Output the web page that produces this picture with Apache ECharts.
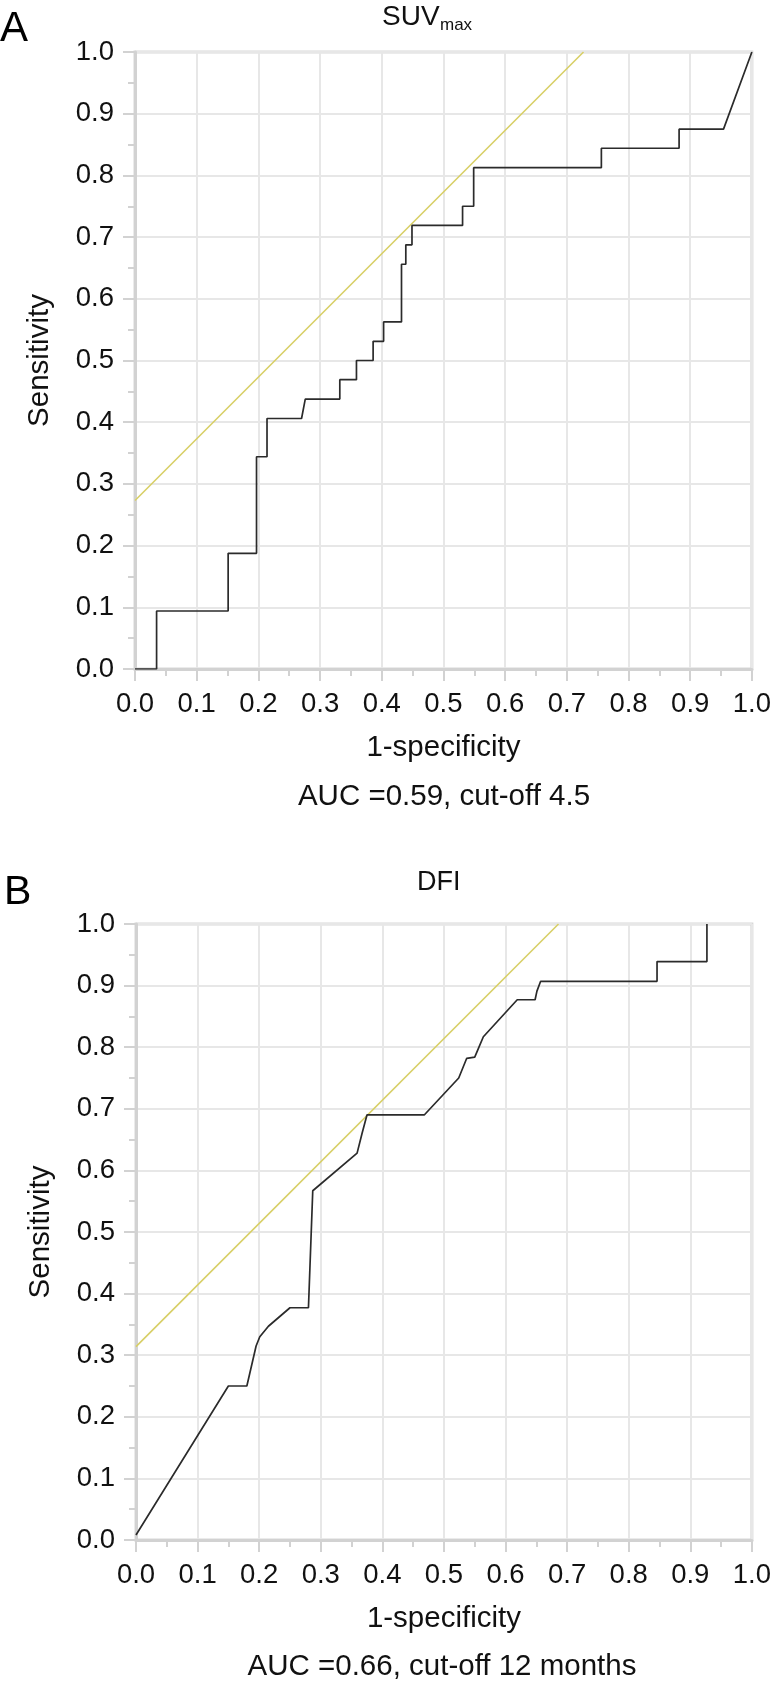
<!DOCTYPE html>
<html>
<head>
<meta charset="utf-8">
<script src="https://cdn.jsdelivr.net/npm/echarts@6/dist/echarts.min.js"></script>
<style>
html,body{margin:0;padding:0;background:#fff;}
#main{width:774px;height:1688px;}
</style>
</head>
<body>
<div id="main"></div>
<script>
// ---- data ----
const tickLabels = ['0.0','0.1','0.2','0.3','0.4','0.5','0.6','0.7','0.8','0.9','1.0'];

// Panel A: SUVmax ROC curve (1-specificity, sensitivity)
const suvFpr = [0, 0.035, 0.035, 0.151, 0.151, 0.197, 0.197, 0.214, 0.214, 0.270, 0.276, 0.332, 0.332, 0.359, 0.359, 0.386, 0.386, 0.403, 0.403, 0.432, 0.432, 0.439, 0.439, 0.449, 0.449, 0.531, 0.531, 0.549, 0.549, 0.756, 0.756, 0.882, 0.882, 0.954, 1.0];
const suvTpr = [0, 0, 0.094, 0.094, 0.1875, 0.1875, 0.344, 0.344, 0.406, 0.406, 0.4375, 0.4375, 0.469, 0.469, 0.5, 0.5, 0.531, 0.531, 0.5625, 0.5625, 0.656, 0.656, 0.6875, 0.6875, 0.719, 0.719, 0.75, 0.75, 0.8125, 0.8125, 0.844, 0.844, 0.875, 0.875, 1.0];
const suvRefX = [0, 0.727];
const suvRefY = [0.273, 1.0];

// Panel B: DFI ROC curve
const dfiFpr = [0, 0.150, 0.180, 0.195, 0.201, 0.215, 0.250, 0.280, 0.287, 0.359, 0.367, 0.375, 0.468, 0.524, 0.537, 0.550, 0.556, 0.564, 0.619, 0.648, 0.651, 0.657, 0.846, 0.846, 0.927, 0.927];
const dfiTpr = [0.008, 0.25, 0.25, 0.315, 0.330, 0.347, 0.377, 0.377, 0.567, 0.628, 0.660, 0.690, 0.690, 0.750, 0.782, 0.784, 0.798, 0.817, 0.877, 0.877, 0.891, 0.907, 0.907, 0.939, 0.939, 1.0];
const dfiRefX = [0, 0.686];
const dfiRefY = [0.314, 1.0];

const titleA = 'SUV';
const titleAsub = 'max';
const titleB = 'DFI';
const xName = '1-specificity';
const yName = 'Sensitivity';
const noteA = 'AUC =0.59, cut-off 4.5';
const noteB = 'AUC =0.66, cut-off 12 months';

// ---- chart ----
const FONT = "'Liberation Sans', Arial, Helvetica, sans-serif";
const zip = (xs, ys) => xs.map((x, i) => [x, ys[i]]);
const axisGray = '#d2d2d2';
const gridGray = '#e7e7e7';

function makeAxis(dim, gi) {
  const isX = dim === 'x';
  return {
    type: 'value', gridIndex: gi, min: 0, max: 1, interval: 0.1,
    name: isX ? xName : yName,
    nameLocation: 'middle',
    nameGap: isX ? 64 : 80,
    nameRotate: isX ? 0 : 90,
    nameTextStyle: { fontFamily: FONT, fontSize: 29.5, color: '#111' },
    axisLine: { show: true, onZero: false, lineStyle: { color: axisGray, width: 3 } },
    axisTick: { show: true, inside: false, length: 12, lineStyle: { color: axisGray, width: 2 } },
    minorTick: { show: true, splitNumber: 2, length: 7, lineStyle: { color: axisGray, width: 2 } },
    splitLine: { show: true, lineStyle: { color: gridGray, width: 2 } },
    axisLabel: {
      fontFamily: FONT, fontSize: 27.5, color: '#111', margin: 21,
      formatter: v => tickLabels[Math.round(v * 10)]
    }
  };
}

const chart = echarts.init(document.getElementById('main'), null, { renderer: 'canvas' });

chart.setOption({
  backgroundColor: '#fff',
  animation: false,
  grid: [
    { left: 135, top: 52, width: 617, height: 617, show: true, borderColor: '#d8d8d8', borderWidth: 3, backgroundColor: 'transparent' },
    { left: 136, top: 924, width: 616, height: 616, show: true, borderColor: '#d8d8d8', borderWidth: 3, backgroundColor: 'transparent' }
  ],
  xAxis: [makeAxis('x', 0), makeAxis('x', 1)],
  yAxis: [makeAxis('y', 0), makeAxis('y', 1)],
  series: [
    { type: 'line', xAxisIndex: 0, yAxisIndex: 0, data: zip(suvRefX, suvRefY), showSymbol: false, symbol: 'none',
      lineStyle: { color: '#d8cf66', width: 1.6 }, z: 3 },
    { type: 'line', xAxisIndex: 0, yAxisIndex: 0, data: zip(suvFpr, suvTpr), showSymbol: false, symbol: 'none',
      lineStyle: { color: '#2b2b2b', width: 1.7 }, z: 4 },
    { type: 'line', xAxisIndex: 1, yAxisIndex: 1, data: zip(dfiRefX, dfiRefY), showSymbol: false, symbol: 'none',
      lineStyle: { color: '#d8cf66', width: 1.6 }, z: 3 },
    { type: 'line', xAxisIndex: 1, yAxisIndex: 1, data: zip(dfiFpr, dfiTpr), showSymbol: false, symbol: 'none',
      lineStyle: { color: '#2b2b2b', width: 1.7 }, z: 4 }
  ],
  graphic: [
    { type: 'text', left: 0, top: 8, style: { text: 'A', fontFamily: FONT, fontSize: 42, fill: '#000' } },
    { type: 'text', left: 4, top: 872, style: { text: 'B', fontFamily: FONT, fontSize: 41, fill: '#000' } },
    { type: 'text', left: 382, top: 3, style: { text: titleA, fontFamily: FONT, fontSize: 28, fill: '#111' } },
    { type: 'text', left: 440, top: 17, style: { text: titleAsub, fontFamily: FONT, fontSize: 17, fill: '#111' } },
    { type: 'text', left: 417, top: 869, style: { text: titleB, fontFamily: FONT, fontSize: 27, fill: '#111' } },
    { type: 'text', x: 444, y: 797, style: { text: noteA, fontFamily: FONT, fontSize: 29.5, fill: '#111', align: 'center', verticalAlign: 'middle' } },
    { type: 'text', x: 442, y: 1667, style: { text: noteB, fontFamily: FONT, fontSize: 29.5, fill: '#111', align: 'center', verticalAlign: 'middle' } }
  ]
});
</script>
</body>
</html>
